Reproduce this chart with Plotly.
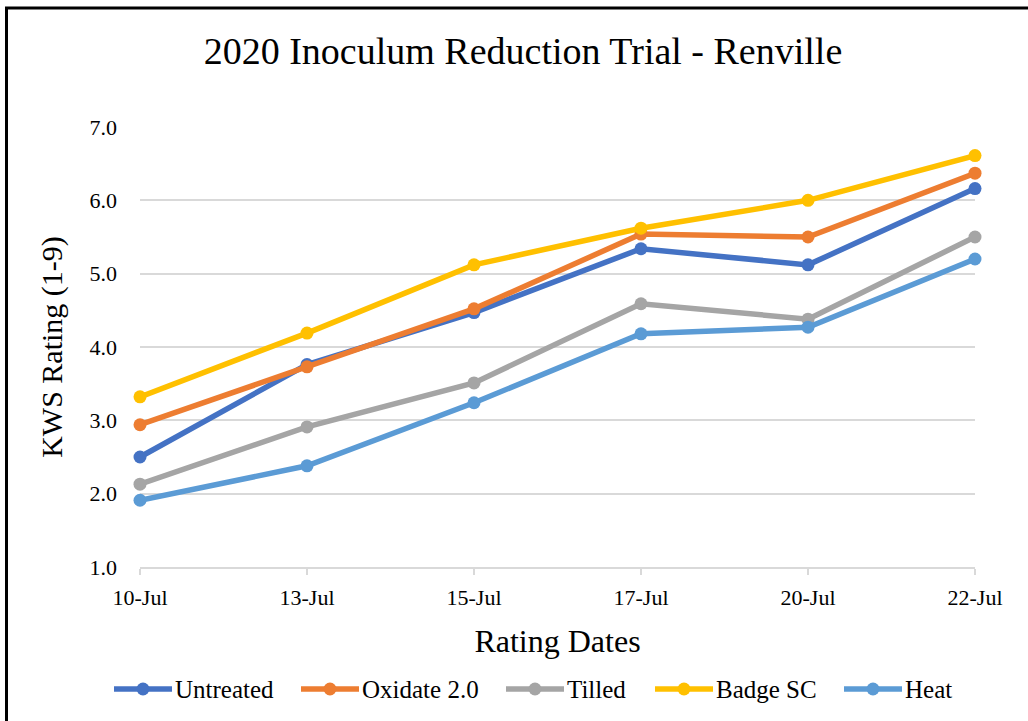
import plotly.graph_objects as go

dates = ["10-Jul", "13-Jul", "15-Jul", "17-Jul", "20-Jul", "22-Jul"]
untreated = [2.50, 3.76, 4.47, 5.34, 5.12, 6.16]
oxidate = [2.94, 3.73, 4.52, 5.54, 5.50, 6.37]
tilled = [2.13, 2.91, 3.51, 4.59, 4.38, 5.50]
badge = [3.32, 4.19, 5.12, 5.62, 6.00, 6.61]
heat = [1.91, 2.38, 3.24, 4.18, 4.27, 5.20]

names = ["Untreated", "Oxidate 2.0", "Tilled", "Badge SC", "Heat"]
values = [untreated, oxidate, tilled, badge, heat]
colors = ["#4472C4", "#ED7D31", "#A5A5A5", "#FFC000", "#5B9BD5"]

# legend layout (pixel start of each legend key line)
legend_px = [114, 301, 506, 655, 844]
LEG_Y = 689
KEY_LEN = 58

W, H = 1028, 721
L, R, T, B = 140, 53, 127, 154
pw, ph = W - L - R, H - T - B

font = "Liberation Serif, Times New Roman, serif"


def px_x(px):
    return (px - L) / pw


def px_y(py):
    return (H - B - py) / ph


fig = go.Figure()
for name, vals, col in zip(names, values, colors):
    fig.add_trace(go.Scatter(
        x=list(range(len(dates))), y=vals, name=name, mode="lines+markers",
        line=dict(color=col, width=5.5),
        marker=dict(color=col, size=13),
        showlegend=False, cliponaxis=False,
    ))

shapes = [
    dict(type="line", xref="paper", yref="paper", x0=px_x(6.5), x1=px_x(6.5),
         y0=px_y(7), y1=px_y(H + 5), line=dict(color="black", width=3)),
    dict(type="line", xref="paper", yref="paper", x0=px_x(5), x1=px_x(W + 5),
         y0=px_y(8), y1=px_y(8), line=dict(color="black", width=3)),
]
annotations = []
for name, col, x0 in zip(names, colors, legend_px):
    shapes.append(dict(type="line", xref="paper", yref="paper",
                       x0=px_x(x0), x1=px_x(x0 + KEY_LEN), y0=px_y(LEG_Y), y1=px_y(LEG_Y),
                       line=dict(color=col, width=5.5)))
    cx = x0 + KEY_LEN / 2
    shapes.append(dict(type="circle", xref="paper", yref="paper",
                       x0=px_x(cx - 6.5), x1=px_x(cx + 6.5),
                       y0=px_y(LEG_Y + 6.5), y1=px_y(LEG_Y - 6.5),
                       fillcolor=col, line=dict(color=col, width=0)))
    annotations.append(dict(text=name, xref="paper", yref="paper",
                            x=px_x(x0 + KEY_LEN + 1), y=px_y(LEG_Y),
                            xanchor="left", yanchor="middle", showarrow=False,
                            font=dict(size=25, family=font, color="#000")))

fig.update_layout(
    width=W, height=H,
    margin=dict(l=L, r=R, t=T, b=B),
    paper_bgcolor="white", plot_bgcolor="white",
    font=dict(family=font, color="#000000"),
    showlegend=False,
    title=dict(text="2020 Inoculum Reduction Trial - Renville", x=523 / W, xanchor="center",
               y=1 - 51 / H, yanchor="middle", font=dict(size=38, family=font, color="#000")),
    xaxis=dict(
        tickmode="array", tickvals=list(range(len(dates))), ticktext=dates,
        range=[0, len(dates) - 1], showgrid=False, zeroline=False,
        showline=True, linecolor="#d9d9d9", linewidth=2,
        ticks="outside", ticklen=6, tickcolor="#d9d9d9", tickwidth=2,
        ticklabelstandoff=4,
        tickfont=dict(size=22, family=font, color="#000"),
        title=dict(text="Rating Dates", font=dict(size=32, family=font, color="#000"), standoff=20),
    ),
    yaxis=dict(
        range=[1, 7], tickvals=[1, 2, 3, 4, 5, 6, 7],
        ticktext=["1.0", "2.0", "3.0", "4.0", "5.0", "6.0", "7.0"],
        showgrid=True, gridcolor="#d9d9d9", gridwidth=2, zeroline=False,
        showline=False, ticks="", ticklabelstandoff=22,
        tickfont=dict(size=22, family=font, color="#000"),
        title=dict(text="KWS Rating (1-9)", font=dict(size=30, family=font, color="#000"), standoff=18),
    ),
    shapes=shapes,
    annotations=annotations,
)

fig.write_html("out.html", config={"displayModeBar": False},
               post_script="document.body.style.margin='0';document.body.style.overflow='hidden';")
